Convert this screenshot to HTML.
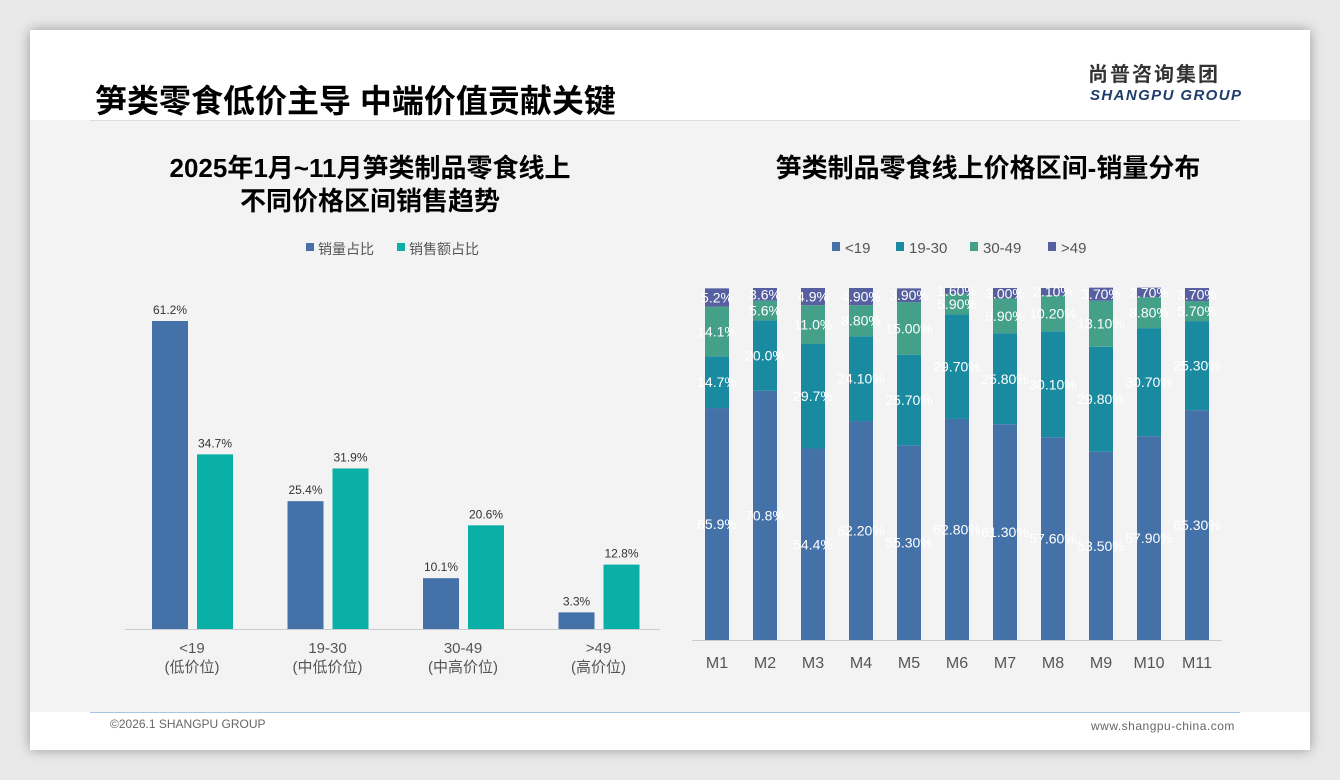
<!DOCTYPE html>
<html><head><meta charset="utf-8">
<style>
body{margin:0;width:1340px;height:780px;background:#e9e9e9;font-family:"Liberation Sans","Noto Sans CJK SC",sans-serif;overflow:hidden;position:relative}
#slide{position:absolute;left:30px;top:30px;width:1280px;height:720px;background:#fff;box-shadow:0 0 12px rgba(0,0,0,0.35)}
.abs{position:absolute}
</style></head><body>
<div id="slide">
<div class="abs" style="left:0;top:90px;width:1280px;height:592px;background:#f3f3f3"></div>
<div class="abs" style="left:65px;top:46px;font-size:32px;font-weight:bold;color:#000;letter-spacing:0px">笋类零食低价主导 中端价值贡献关键</div>
<div class="abs" style="left:1058px;top:32px;font-size:20px;font-weight:bold;color:#333;letter-spacing:2px;line-height:26px">尚普咨询集团</div>
<div class="abs" style="left:1060px;top:57px;font-size:15px;font-weight:bold;font-style:italic;color:#1f3d6b;letter-spacing:1.4px">SHANGPU GROUP</div>
<div class="abs" style="left:60px;top:90px;width:1150px;height:1px;background:#ddd"></div>
<div class="abs" style="left:60px;top:682px;width:1150px;height:1px;background:#a9c4e0"></div>
<div class="abs" style="left:80px;top:687px;font-size:12px;color:#666">©2026.1 SHANGPU GROUP</div>
<div class="abs" style="left:1061px;top:689px;font-size:12px;color:#666;letter-spacing:0.5px">www.shangpu-china.com</div>
</div>
<svg class="abs" style="left:0;top:0" width="1340" height="780" font-family="Liberation Sans, Noto Sans CJK SC, sans-serif">
<text x="370" y="177" text-anchor="middle" font-size="26" font-weight="bold">2025年1月~11月笋类制品零食线上</text>
<text x="370" y="210" text-anchor="middle" font-size="26" font-weight="bold">不同价格区间销售趋势</text>
<text x="988" y="177" text-anchor="middle" font-size="26" font-weight="bold">笋类制品零食线上价格区间-销量分布</text>
<g id="left"></g><g id="right"></g>
</svg>
<script>
const ns="http://www.w3.org/2000/svg";
function mk(p,t,a){const e=document.createElementNS(ns,t);for(const k in a)e.setAttribute(k,a[k]);p.appendChild(e);return e;}
// left chart data
const leftCats=["<19","19-30","30-49",">49"];
const leftSub=["(低价位)","(中低价位)","(中高价位)","(高价位)"];
const volShare=[61.2,25.4,10.1,3.3];
const amtShare=[34.7,31.9,20.6,12.8];
// right chart data
const months=["M1","M2","M3","M4","M5","M6","M7","M8","M9","M10","M11"];
const s19=[65.9,70.8,54.4,62.2,55.3,62.8,61.3,57.6,53.5,57.9,65.3];
const s1930=[14.7,20.0,29.7,24.1,25.7,29.7,25.8,30.1,29.8,30.7,25.3];
const s3049=[14.1,5.6,11.0,8.8,15.0,5.9,9.9,10.2,13.1,8.8,5.7];
const s49=[5.2,3.6,4.9,4.9,3.9,1.6,3.0,2.1,3.7,2.7,3.7];
const rLabels=[["65.9%","70.8%","54.4%","62.20%","55.30%","62.80%","61.30%","57.60%","53.50%","57.90%","65.30%"],
["14.7%","20.0%","29.7%","24.10%","25.70%","29.70%","25.80%","30.10%","29.80%","30.70%","25.30%"],
["14.1%","5.6%","11.0%","8.80%","15.00%","5.90%","9.90%","10.20%","13.10%","8.80%","5.70%"],
["5.2%","3.6%","4.9%","4.90%","3.90%","1.60%","3.00%","2.10%","3.70%","2.70%","3.70%"]];

const L=document.getElementById('left');
const base=629, lsc=308/61.2;
const ly=v=>base-v*lsc;
const lx=i=>192+i*135.5;
mk(L,'line',{x1:125,y1:base+0.5,x2:660,y2:base+0.5,stroke:'#ccc'});
let r=mk(L,'rect',{x:306,y:243,width:8,height:8,fill:'#4472a8'});
let t=mk(L,'text',{x:318,y:254,'font-size':14,fill:'#555'});t.textContent='销量占比';
r=mk(L,'rect',{x:397,y:243,width:8,height:8,fill:'#0ab0a6'});
t=mk(L,'text',{x:409,y:254,'font-size':14,fill:'#555'});t.textContent='销售额占比';
leftCats.forEach((c,i)=>{
 const x=lx(i);
 let b=mk(L,'rect',{x:x-40,y:ly(volShare[i]),width:36,height:base-ly(volShare[i]),fill:'#4472a8'});
 
 let tt=mk(L,'text',{x:x-22,y:ly(volShare[i])-7,'text-anchor':'middle','font-size':12,fill:'#333'});tt.textContent=volShare[i].toFixed(1)+'%';
 
 b=mk(L,'rect',{x:x+5,y:ly(amtShare[i]),width:36,height:base-ly(amtShare[i]),fill:'#0ab0a6'});
 
 tt=mk(L,'text',{x:x+23,y:ly(amtShare[i])-7,'text-anchor':'middle','font-size':12,fill:'#333'});tt.textContent=amtShare[i].toFixed(1)+'%';
 
 tt=mk(L,'text',{x:x,y:653,'text-anchor':'middle','font-size':15,fill:'#555'});tt.textContent=c;
 
 tt=mk(L,'text',{x:x,y:672,'text-anchor':'middle','font-size':15,fill:'#555'});tt.textContent=leftSub[i];
 
});

const R=document.getElementById('right');
const rb=640, rsc=352/100;
const rx=i=>717+i*48;
mk(R,'line',{x1:692,y1:rb+0.5,x2:1222,y2:rb+0.5,stroke:'#ccc'});
const series=[s19,s1930,s3049,s49];
const cols=['#4472a8','#1a8aa0','#45a08a','#5660a0'];
const names=['<19','19-30','30-49','>49'];
const lgx=[832,896,970,1048];
names.forEach((n,k)=>{
 let q=mk(R,'rect',{x:lgx[k],y:242,width:8,height:9,fill:cols[k]});
 let tq=mk(R,'text',{x:lgx[k]+13,y:253,'font-size':15,fill:'#555'});tq.textContent=n;
});
months.forEach((m,i)=>{
 let acc=0;const x=rx(i);
 series.forEach((s,k)=>{
  const h=s[i]*rsc, y=rb-acc-h;
  const b=mk(R,'rect',{x:x-12,y:y,width:24,height:h,fill:cols[k]});
  
  const tl=mk(R,'text',{x:x,y:y+h/2+5,'text-anchor':'middle','font-size':14,fill:'#fff'});tl.textContent=rLabels[k][i];
  
  acc+=h;
 });
 const tm=mk(R,'text',{x:x,y:668,'text-anchor':'middle','font-size':16,fill:'#555'});tm.textContent=m;
 
});
</script>
</body></html>
